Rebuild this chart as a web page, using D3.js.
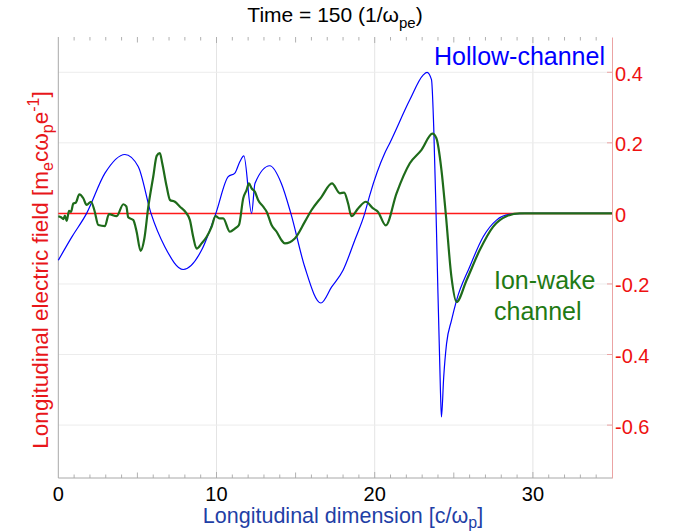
<!DOCTYPE html>
<html>
<head>
<meta charset="utf-8">
<script src="https://d3js.org/d3.v7.min.js"></script>
<style>
  body { margin: 0; background: #fff; }
  text { font-family: "Liberation Sans", Arial, Helvetica, sans-serif; }
</style>
</head>
<body>
<div class="chart"></div>
<script>
// Data
var hollowX = [0, 0.84, 1.79, 2.95, 4.21, 5.05, 5.86, 6.74, 7.9, 9.06, 9.96,
  10.74, 11.16, 11.48, 11.73, 12.22, 12.43, 13.37, 14.1, 14.7, 15.58, 16.6,
  17.27, 18.0, 18.74, 19.37, 19.69, 20.64, 20.95, 22.22, 23.06, 23.31, 23.59,
  23.73, 23.9, 24.16, 24.22, 24.36, 24.54, 24.85, 25.17, 26.0, 26.85, 27.7,
  28.5, 29.5, 35];
var hollowY = [-0.133, -0.068, 0, 0.114, 0.167, 0.133, 0, -0.095, -0.159, -0.104, 0,
  0.104, 0.114, 0.147, 0.163, 0.0, 0.085, 0.135, 0.085, 0, -0.152, -0.254,
  -0.209, -0.161, -0.076, 0, 0.052, 0.171, 0.199, 0.322, 0.392, 0.4, 0.379,
  0.246, -0.038, -0.51, -0.577, -0.465, -0.37, -0.304, -0.247, -0.152, -0.067, -0.019,
  -0.003, 0, 0];

var ionX = [0, 0.17, 0.32, 0.42, 0.53, 0.68, 0.8, 0.95, 1.1, 1.33, 1.58, 1.79,
  2.07, 2.28, 2.53, 2.95, 3.2, 3.69, 4.11, 4.3, 4.42, 4.74, 4.95, 5.2, 5.44,
  5.69, 6.0, 6.22, 6.42, 6.57, 6.85, 7.06, 7.37, 7.69, 8.07, 8.32, 8.53, 8.74,
  9.06, 9.37, 9.69, 9.94, 10.21, 10.42, 10.85, 11.16, 11.42, 11.69, 11.9, 12.05,
  12.22, 12.43, 12.63, 12.95, 13.17, 13.48, 13.8, 14.11, 14.32, 14.95, 15.58,
  16.0, 16.64, 17.3, 17.8, 18.07, 18.32, 18.53, 18.95, 19.44, 19.9, 20.2, 20.7,
  21.38, 22.22, 22.96, 23.65, 23.9, 24.22, 24.49, 24.85, 25.17, 25.8, 26.64,
  27.48, 28.33, 29.17, 35];
var ionY = [-0.008, -0.011, -0.016, -0.006, -0.021, 0.007, 0.004, 0.028, 0.03, 0.054, 0.043, 0.024,
  0.033, 0.009, -0.033, -0.036, -0.002, -0.008, 0.026, 0.02, -0.011, -0.019, -0.052, -0.106, -0.071,
  0.019, 0.104, 0.163, 0.171, 0.142, 0.076, 0.038, 0.033, 0.019, 0.002, -0.019, -0.067, -0.1,
  -0.085, -0.067, -0.038, -0.008, -0.014, -0.014, -0.052, -0.043, -0.033, 0.043, 0.066, 0.085,
  0.071, 0.061, 0.038, 0.019, 0.005, -0.033, -0.052, -0.076, -0.085, -0.071, -0.024,
  0.009, 0.047, 0.085, 0.057, 0.059, 0.028, -0.008, 0.014, 0.033, 0.014, 0.005, -0.034,
  0.057, 0.142, 0.18, 0.226, 0.213, 0.123, 0, -0.18, -0.251, -0.19, -0.104,
  -0.038, -0.008, 0, 0];

var zeroX = [0, 35];
var zeroY = [0, 0];

var xTicks = [0, 10, 20, 30];
var yTicks = [0.4, 0.2, 0, -0.2, -0.4, -0.6];
var yTickLabels = ["0.4", "0.2", "0", "-0.2", "-0.4", "-0.6"];

var svgWidth = 673;
var svgHeight = 531;

var margin = { top: 37, right: 61, bottom: 53, left: 58.3 };
var width = svgWidth - margin.left - margin.right;
var height = svgHeight - margin.top - margin.bottom;

var svg = d3.select(".chart")
  .append("svg")
  .attr("width", svgWidth)
  .attr("height", svgHeight);

var chartGroup = svg.append("g")
  .attr("transform", `translate(${margin.left}, ${margin.top})`);

var xScale = d3.scaleLinear().domain([0, 35]).range([0, width]);
var yScale = d3.scaleLinear().domain([-0.75, 0.5]).range([height, 0]);

// grid
chartGroup.selectAll(".xgrid")
  .data(xTicks.slice(1))
  .enter()
  .append("line")
  .attr("x1", d => xScale(d)).attr("x2", d => xScale(d))
  .attr("y1", 0).attr("y2", height)
  .attr("stroke", "#e4e4e4").attr("stroke-width", 1);

chartGroup.selectAll(".ygrid")
  .data(yTicks)
  .enter()
  .append("line")
  .attr("x1", 0).attr("x2", width)
  .attr("y1", d => yScale(d)).attr("y2", d => yScale(d))
  .attr("stroke", "#ececec").attr("stroke-width", 1);

// minor ticks on bottom and top
var minor = d3.range(1, 35);
chartGroup.selectAll(".tb")
  .data(minor)
  .enter()
  .append("line")
  .attr("x1", d => xScale(d)).attr("x2", d => xScale(d))
  .attr("y1", height)
  .attr("y2", d => height - (d % 10 == 0 ? 6 : d % 5 == 0 ? 5.5 : 3.5))
  .attr("stroke", "#b0b0b0");

chartGroup.selectAll(".tt")
  .data(minor)
  .enter()
  .append("line")
  .attr("x1", d => xScale(d)).attr("x2", d => xScale(d))
  .attr("y1", 0)
  .attr("y2", d => (d % 10 == 0 ? 6 : d % 5 == 0 ? 5.5 : 3.5))
  .attr("stroke", "#b0b0b0");

// axis lines
chartGroup.append("line")
  .attr("x1", 0).attr("x2", width).attr("y1", height).attr("y2", height)
  .attr("stroke", "#a8a8a8");
chartGroup.append("line")
  .attr("x1", 0).attr("x2", 0).attr("y1", 0).attr("y2", height)
  .attr("stroke", "#a8a8a8");

// right axis, pink
var rightAxis = d3.axisRight(yScale)
  .tickValues(yTicks)
  .tickSize(0)
  .tickFormat("");
var ra = chartGroup.append("g")
  .attr("transform", `translate(${width}, 0)`)
  .call(rightAxis);
ra.select(".domain").attr("stroke", "#eba3a3");
ra.selectAll(".rtick")
  .data(yTicks)
  .enter()
  .append("line")
  .attr("x1", -5).attr("x2", 0)
  .attr("y1", d => yScale(d)).attr("y2", d => yScale(d))
  .attr("stroke", "#eba3a3");
ra.selectAll(".rlab")
  .data(yTicks)
  .enter()
  .append("text")
  .attr("x", 3)
  .attr("y", d => yScale(d) + 8.5)
  .attr("fill", "#ee1111")
  .attr("font-size", "20px")
  .text((d, i) => yTickLabels[i]);

// bottom tick labels
chartGroup.selectAll(".xlab")
  .data(xTicks)
  .enter()
  .append("text")
  .attr("x", d => xScale(d))
  .attr("y", height + 23)
  .attr("text-anchor", "middle")
  .attr("font-size", "20px")
  .attr("fill", "#000")
  .text(d => d);

// lines
var line = d3.line()
  .x(d => xScale(d[0]))
  .y(d => yScale(d[1]))
  .curve(d3.curveMonotoneX);

chartGroup.append("path")
  .datum(d3.zip(zeroX, zeroY))
  .attr("d", line)
  .attr("fill", "none")
  .attr("stroke", "#ff1a1a")
  .attr("stroke-width", 1.5);

chartGroup.append("path")
  .datum(d3.zip(hollowX, hollowY))
  .attr("d", line)
  .attr("fill", "none")
  .attr("stroke", "#0000ff")
  .attr("stroke-width", 1.2);

chartGroup.append("path")
  .datum(d3.zip(ionX, ionY))
  .attr("d", line)
  .attr("fill", "none")
  .attr("stroke", "#1e6b1a")
  .attr("stroke-width", 2.2)
  .attr("stroke-linejoin", "round");

// labels inside the plot
svg.append("text")
  .attr("x", 605).attr("y", 65)
  .attr("text-anchor", "end")
  .attr("font-size", "25px")
  .attr("fill", "#0000ff")
  .text("Hollow-channel");

var ionLabel = svg.append("text")
  .attr("font-size", "25px")
  .attr("fill", "#1f7a14");
ionLabel.append("tspan").attr("x", 494).attr("y", 289).text("Ion-wake");
ionLabel.append("tspan").attr("x", 494).attr("y", 320).text("channel");

// title
var title = svg.append("text")
  .attr("x", 335).attr("y", 22)
  .attr("text-anchor", "middle")
  .attr("font-size", "21px")
  .attr("fill", "#000");
title.append("tspan").text("Time = 150 (1/\u03c9");
title.append("tspan").attr("font-size", "15px").attr("dy", 6).text("pe");
title.append("tspan").attr("dy", -6).text(")");

// x axis label
var xl = svg.append("text")
  .attr("x", 343).attr("y", 523)
  .attr("text-anchor", "middle")
  .attr("font-size", "21.5px")
  .attr("fill", "#1f3fa6");
xl.append("tspan").text("Longitudinal dimension [c/\u03c9");
xl.append("tspan").attr("font-size", "16px").attr("dy", 5).text("p");
xl.append("tspan").attr("dy", -5).text("]");

// y axis label
var yl = svg.append("text")
  .attr("transform", "translate(48, 270) rotate(-90)")
  .attr("text-anchor", "middle")
  .attr("font-size", "22.5px")
  .attr("fill", "#e8161a");
yl.append("tspan").text("Longitudinal electric field [m");
yl.append("tspan").attr("font-size", "16px").attr("dy", 5).text("e");
yl.append("tspan").attr("dy", -5).text("c\u03c9");
yl.append("tspan").attr("font-size", "16px").attr("dy", 5).text("p");
yl.append("tspan").attr("dy", -5).text("e");
yl.append("tspan").attr("font-size", "16px").attr("dy", -9).text("-1");
yl.append("tspan").attr("dy", 9).text("]");
</script>
</body>
</html>
